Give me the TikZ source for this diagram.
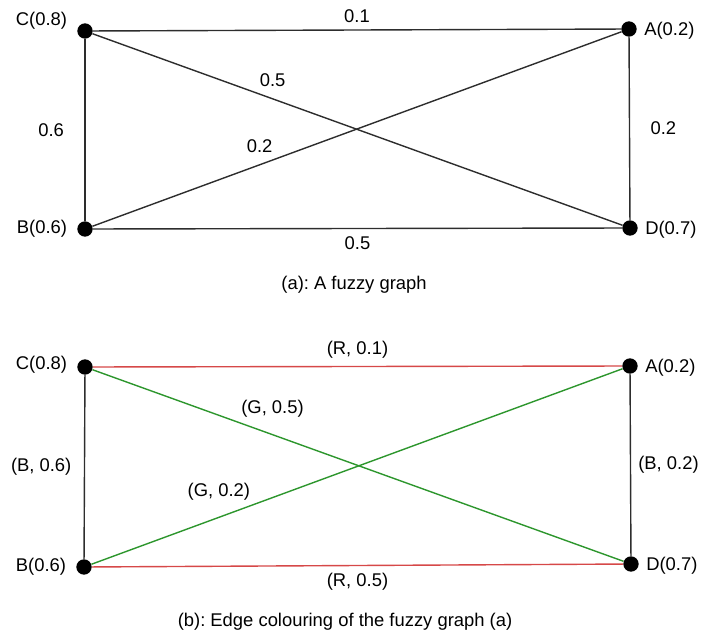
\documentclass[tikz,border=0pt]{standalone}
\usepackage{fontspec}
\setmainfont{Liberation Sans}
\usetikzlibrary{positioning}
\definecolor{edgered}{RGB}{214,72,72}
\definecolor{edgegreen}{RGB}{45,150,45}
\definecolor{edgeblack}{RGB}{45,45,45}
\frenchspacing

\begin{document}
\begin{tikzpicture}[x=0.75pt, y=-0.75pt,
  every node/.style={font=\fontsize{13.8}{16}\selectfont},
  vtx/.style={circle, fill=black, inner sep=0pt, minimum size=11.5pt},
  edge/.style={line width=1.05pt, draw=edgeblack},
  redge/.style={line width=1.05pt, draw=edgered},
  gedge/.style={line width=1.05pt, draw=edgegreen}]
\useasboundingbox (0,0) rectangle (701,632);

% (a): the fuzzy graph
\node[vtx] (Ca) at (85,31) {};
\node[vtx] (Aa) at (629,29) {};
\node[vtx] (Ba) at (85,229) {};
\node[vtx] (Da) at (630,228) {};
\node[left=4pt of Ca, yshift=8pt] (Cla) {C(0.8)};
\node[right=2pt of Aa, yshift=-1pt] (Ala) {A(0.2)};
\node[left=4pt of Ba] (Bla) {B(0.6)};
\node[right=2pt of Da, yshift=-1pt] (Dla) {D(0.7)};
\draw[edge] (Ca) -- node[above=2pt] (wCA) {0.1} (Aa);
\draw[edge] (Ba) -- node[below=2pt] (wBD) {0.5} (Da);
\draw[edge] (Ca) -- node[left=12pt] (wCB) {0.6} (Ba);
\draw[edge] (Aa) -- node[right=12pt] (wAD) {0.2} (Da);
\draw[edge] (Ca) -- node[pos=0.34, above=5pt] (wCD) {0.5} (Da);
\draw[edge] (Ba) -- node[pos=0.316, above=5pt] (wBA) {0.2} (Aa);
\node (capa) at (354,285) {(a): A fuzzy graph};

% (b): edge colouring
\node[vtx] (Cb) at (85,367) {};
\node[vtx] (Ab) at (630,366) {};
\node[vtx] (Bb) at (84,567) {};
\node[vtx] (Db) at (631,564) {};
\node[left=4pt of Cb, yshift=2pt] (Clb) {C(0.8)};
\node[right=2pt of Ab, yshift=-1pt] (Alb) {A(0.2)};
\node[left=4pt of Bb] (Blb) {B(0.6)};
\node[right=2pt of Db, yshift=-1pt] (Dlb) {D(0.7)};
\draw[redge] (Cb) -- node[above=2pt] (cCA) {(R, 0.1)} (Ab);
\draw[redge] (Bb) -- node[below=2pt] (cBD) {(R, 0.5)} (Db);
\draw[edge] (Cb) -- node[left=6pt] (cCB) {(B, 0.6)} (Bb);
\draw[edge] (Ab) -- node[right=2pt] (cAD) {(B, 0.2)} (Db);
\draw[gedge] (Cb) -- node[pos=0.339, above=9pt] (cCD) {(G, 0.5)} (Db);
\draw[gedge] (Bb) -- node[pos=0.24, above=9pt] (cBA) {(G, 0.2)} (Ab);
\node (capb) at (345,622) {(b): Edge colouring of the fuzzy graph (a)};
\end{tikzpicture}
\end{document}
